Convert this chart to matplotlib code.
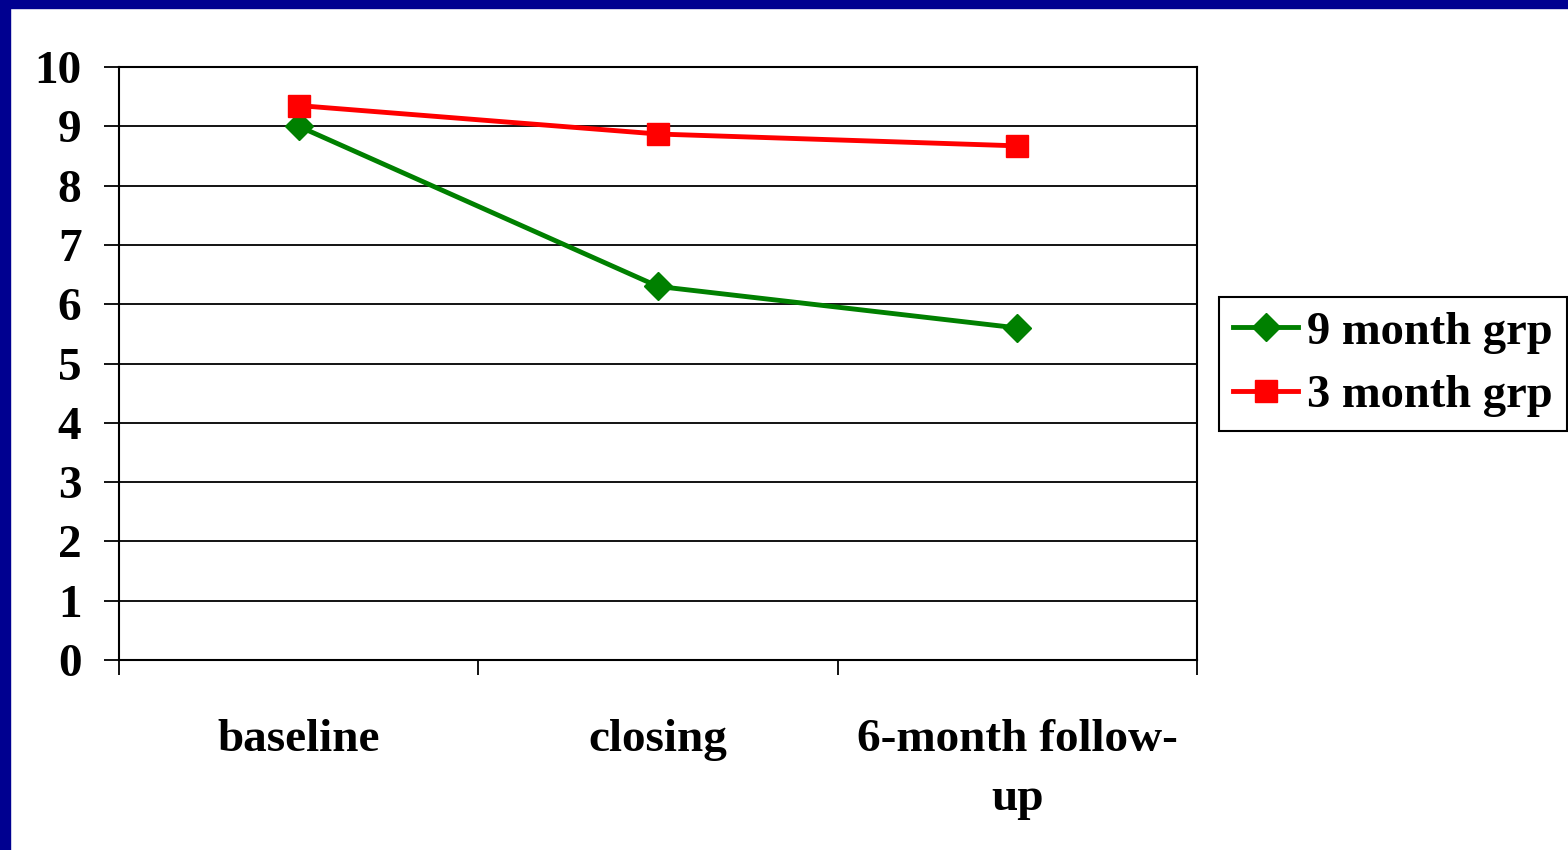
import matplotlib
matplotlib.use("Agg")
import matplotlib.pyplot as plt
from matplotlib.patches import Rectangle

categories = ["baseline", "closing", "6-month follow-\nup"]
grp9 = [9.0, 6.3, 5.6]
grp3 = [9.35, 8.87, 8.67]
series_labels = ["9 month grp", "3 month grp"]
yticks = list(range(0, 11))

W, H = 1568, 850
fig = plt.figure(figsize=(W / 100, H / 100), dpi=100)
fig.patch.set_facecolor("white")

font = {"family": "Liberation Serif", "weight": "bold"}
fs = 34

ax = fig.add_axes([119 / W, 1 - 660 / H, (1197 - 119) / W, (660 - 67) / H])
xs = [i + 0.5 for i in range(len(categories))]
ax.plot(xs, grp9, color="#008000", lw=3.5, marker="D", ms=14, label=series_labels[0], zorder=3)
ax.plot(xs, grp3, color="#FF0000", lw=3.5, marker="s", ms=16, label=series_labels[1], zorder=3)

ax.set_xlim(0, len(categories))
ax.set_ylim(0, 10)
ax.set_yticks(yticks)
ax.set_yticklabels([str(t) for t in yticks], fontdict=dict(font, size=fs))
for y in yticks[1:]:
    ax.axhline(y, color="black", lw=1.3, zorder=1)
ax.set_xticks(range(len(categories) + 1))
ax.set_xticklabels([])
for x, c in zip(xs, categories):
    ax.text(x, -1.0, c, ha="center", va="top", fontdict=dict(font, size=fs),
            linespacing=1.52)
ax.tick_params(axis="y", length=11, width=1.3, pad=16, direction="out")
ax.tick_params(axis="x", length=11, width=1.3, direction="out")
for s in ["left", "bottom", "right", "top"]:
    ax.spines[s].set_linewidth(1.5)
    ax.spines[s].set_color("black")

leg = fig.legend(loc="upper left", bbox_to_anchor=(1219 / W, 1 - 297 / H),
                 prop=dict(family="Liberation Serif", weight="bold", size=33.5),
                 frameon=True, fancybox=False, edgecolor="black", framealpha=1,
                 handlelength=1.4, handletextpad=0.2, borderpad=0.3, labelspacing=0.45,
                 borderaxespad=0)
leg.get_frame().set_linewidth(1.5)

fig.add_artist(Rectangle((0, 1 - 8 / H), 1, 8 / H, transform=fig.transFigure,
                         color="#000090", zorder=10))
fig.add_artist(Rectangle((0, 0), 10 / W, 1, transform=fig.transFigure,
                         color="#000090", zorder=10))

fig.savefig("out.png", dpi=100)
